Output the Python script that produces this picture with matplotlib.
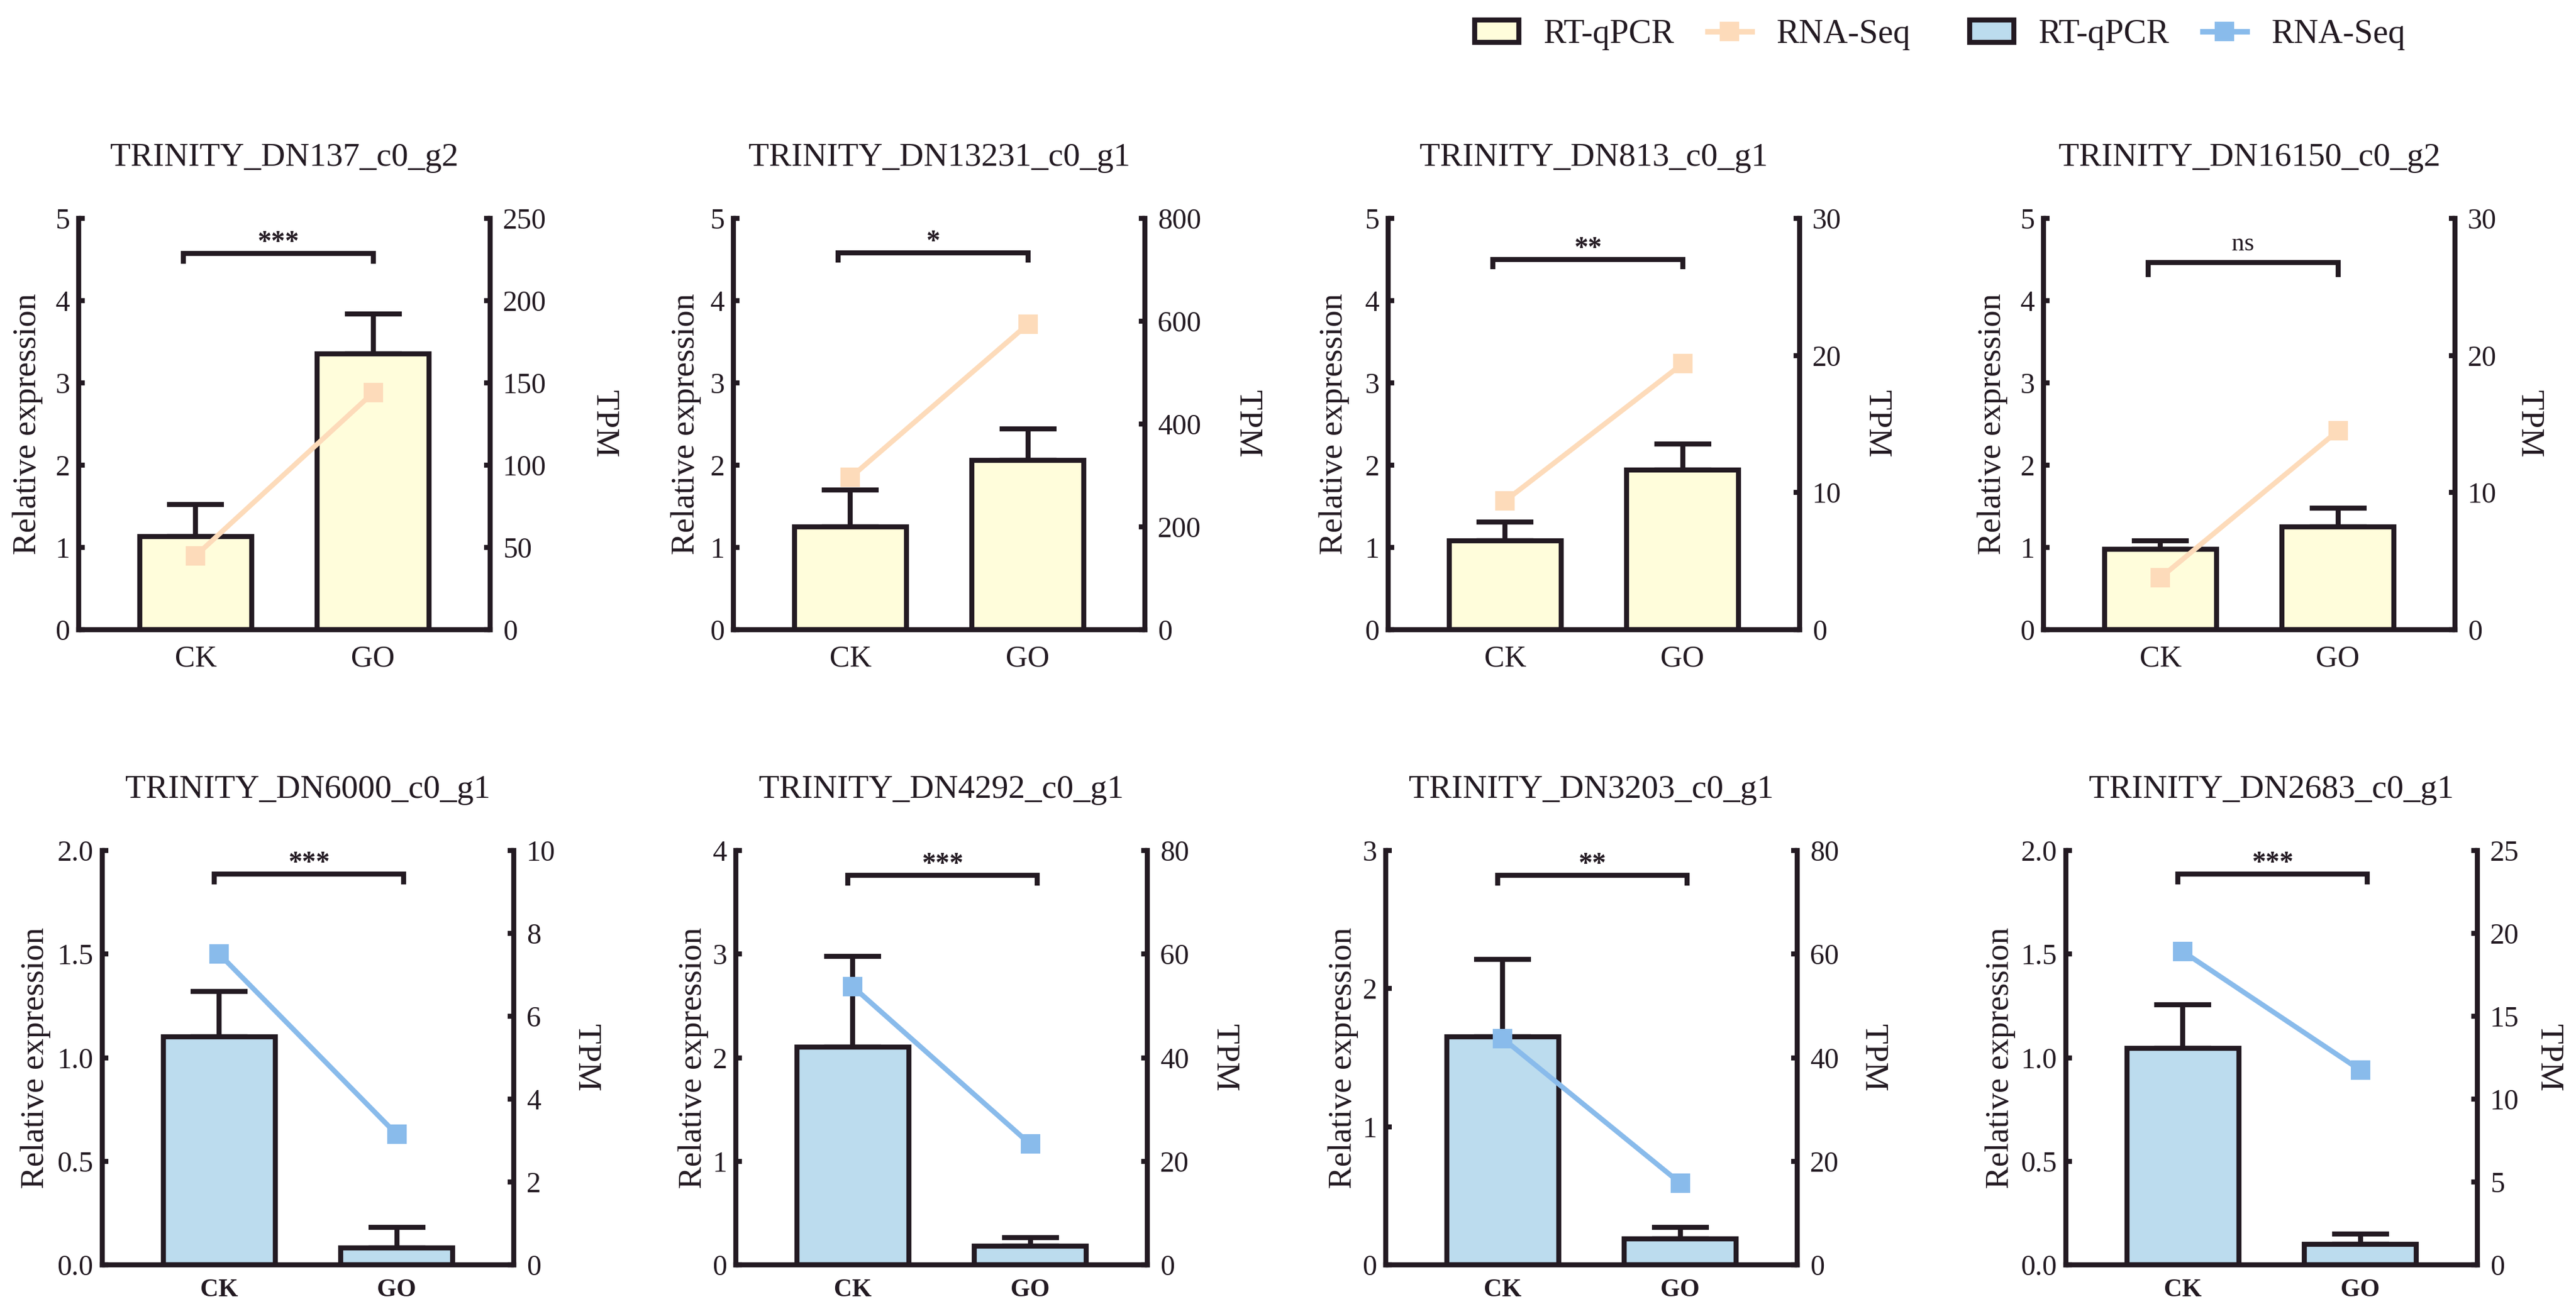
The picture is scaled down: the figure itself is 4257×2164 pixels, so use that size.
import matplotlib
matplotlib.use("Agg")
import matplotlib.pyplot as plt
from matplotlib.lines import Line2D
from matplotlib.patches import Patch
import numpy as np

plt.rcParams["font.family"] = "serif"
plt.rcParams["font.serif"] = ["Liberation Serif", "Times New Roman", "DejaVu Serif"]

# ---- data ----
GENES = [
    "TRINITY_DN137_c0_g2", "TRINITY_DN13231_c0_g1", "TRINITY_DN813_c0_g1", "TRINITY_DN16150_c0_g2",
    "TRINITY_DN6000_c0_g1", "TRINITY_DN4292_c0_g1", "TRINITY_DN3203_c0_g1", "TRINITY_DN2683_c0_g1",
]
GROUPS = ["CK", "GO"]
QPCR_MEAN = [
    [1.13, 3.35], [1.25, 2.06], [1.08, 1.94], [0.98, 1.25],
    [1.10, 0.082], [2.10, 0.18], [1.65, 0.19], [1.045, 0.10],
]
QPCR_SD = [
    [0.39, 0.49], [0.45, 0.38], [0.23, 0.32], [0.10, 0.23],
    [0.22, 0.10], [0.88, 0.08], [0.56, 0.08], [0.21, 0.05],
]
TPM = [
    [45, 144], [296, 594], [9.4, 19.4], [3.8, 14.5],
    [7.5, 3.15], [53.7, 23.3], [43.7, 15.8], [18.9, 11.75],
]
SIGNIF = ["***", "*", "**", "ns", "***", "***", "**", "***"]
BRACKET_Y = [4.57, 4.58, 4.50, 4.46, 1.885, 3.76, 2.82, 1.885]
LEFT_MAX = [5, 5, 5, 5, 2.0, 4, 3, 2.0]
LEFT_STEP = [1, 1, 1, 1, 0.5, 1, 1, 0.5]
RIGHT_MAX = [250, 800, 30, 30, 10, 80, 80, 25]
RIGHT_STEP = [50, 200, 10, 10, 2, 20, 20, 5]

# ---- style / layout ----
INK = "#231a22"
YELLOW = "#fffddb"
PEACH = "#fddbba"
BLUE_BAR = "#bcdcee"
BLUE_LINE = "#89bbeb"
LW = 2.0

W, H, DPI = 4257, 2164, 300
AX_LEFT = [130, 1212, 2294, 3377, 169, 1216, 2290, 3414]
AX_TOP = [361, 361, 361, 361, 1406, 1406, 1406, 1406]
AX_W = 680
AX_H = [680, 680, 680, 680, 685, 685, 685, 685]
YLABEL_X = [-0.124, -0.115, -0.131, -0.124, -0.162, -0.103, -0.104, -0.159]
TPM_LABEL_PX = [188, 169, 127, 122, 119, 127, 125, 117]


def tick_values(vmax, step):
    return np.arange(0, vmax + step / 2, step)


def draw_panel(fig, i):
    bottom_row = i >= 4
    bar_color = BLUE_BAR if bottom_row else YELLOW
    line_color = BLUE_LINE if bottom_row else PEACH

    rect = [AX_LEFT[i] / W, 1 - (AX_TOP[i] + AX_H[i]) / H, AX_W / W, AX_H[i] / H]
    ax = fig.add_axes(rect)
    x = np.arange(len(GROUPS))

    ax.errorbar(x, QPCR_MEAN[i], yerr=[np.zeros(len(x)), QPCR_SD[i]], fmt="none",
                ecolor=INK, elinewidth=LW, capsize=11.3, capthick=LW, zorder=1)
    ax.bar(x, QPCR_MEAN[i], width=0.63, color=bar_color, edgecolor=INK,
           linewidth=LW, zorder=2)

    ax.set_xlim(-0.66, 1.66)
    ax.set_ylim(0, LEFT_MAX[i])
    ax.set_xticks(x)
    ax.set_xticklabels(GROUPS)
    yt = tick_values(LEFT_MAX[i], LEFT_STEP[i])
    ax.set_yticks(yt)
    if LEFT_STEP[i] < 1:
        ax.set_yticklabels([f"{v:.1f}" for v in yt])
    else:
        ax.set_yticklabels([f"{v:.0f}" for v in yt])

    for side in ("top", "right"):
        ax.spines[side].set_visible(False)
    for side in ("left", "bottom"):
        ax.spines[side].set_linewidth(LW)
        ax.spines[side].set_color(INK)

    ax.tick_params(axis="y", direction="in", length=2.5, width=LW, pad=3.5,
                   labelsize=11.5, colors=INK)
    if bottom_row:
        ax.tick_params(axis="x", direction="in", length=2.5, width=LW, pad=5.5,
                       labelsize=10, colors=INK)
        for lab in ax.get_xticklabels():
            lab.set_fontweight("bold")
    else:
        ax.tick_params(axis="x", direction="in", length=2.5, width=LW, pad=6,
                       labelsize=12, colors=INK)

    ax.set_ylabel("Relative expression", fontsize=13.2, color=INK, va="center")
    ax.yaxis.set_label_coords(YLABEL_X[i], 0.5)
    ax.text(0.5, 1 + 100 / AX_H[i], GENES[i], transform=ax.transAxes,
            ha="center", va="center", fontsize=13.3, color=INK)

    # significance bracket
    ymax = LEFT_MAX[i]
    x1, x2 = (-0.03, 1.04) if bottom_row else (-0.07, 1.0)
    drop = (0.034 if SIGNIF[i] == "ns" else 0.024) * ymax
    yb = BRACKET_Y[i]
    ax.plot([x1, x1, x2, x2], [yb - drop, yb, yb, yb - drop], color=INK, lw=LW,
            solid_joinstyle="miter", solid_capstyle="butt", clip_on=False, zorder=4)
    if SIGNIF[i] == "ns":
        ax.annotate("ns", xy=((x1 + x2) / 2, yb), xytext=(0, 5), textcoords="offset points",
                    ha="center", va="baseline", fontsize=10, color=INK)
    else:
        ax.annotate(SIGNIF[i], xy=((x1 + x2) / 2, yb), xytext=(0, 1.5), textcoords="offset points",
                    ha="center", va="baseline", fontsize=11, fontweight="bold", color=INK)

    # TPM on the right axis
    ax2 = ax.twinx()
    ax2.plot(x, TPM[i], color=line_color, lw=2.0, marker="s", ms=6.8,
             mec=line_color, mfc=line_color, zorder=3)
    ax2.set_ylim(0, RIGHT_MAX[i])
    rt = tick_values(RIGHT_MAX[i], RIGHT_STEP[i])
    ax2.set_yticks(rt)
    ax2.set_yticklabels([f"{v:.0f}" for v in rt])
    for side in ("top", "left", "bottom"):
        ax2.spines[side].set_visible(False)
    ax2.spines["right"].set_linewidth(LW)
    ax2.spines["right"].set_color(INK)
    ax2.tick_params(axis="y", direction="in", length=2.5, width=LW, pad=5,
                    labelsize=11.5, colors=INK)
    ax2.set_ylabel("TPM", rotation=270, va="center", fontsize=13, color=INK)
    ax2.yaxis.set_label_coords(1 + TPM_LABEL_PX[i] / AX_W, 0.5)


def add_legend(fig, left_px, box_color, line_color):
    handles = [
        Patch(facecolor=box_color, edgecolor=INK, linewidth=LW),
        Line2D([0], [0], color=line_color, lw=2.2, marker="s", ms=6.8,
               mec=line_color, mfc=line_color),
    ]
    leg = fig.legend(handles=handles, labels=["RT-qPCR", "RNA-Seq"], ncol=2,
                     loc="center left", bbox_to_anchor=(left_px / W, 1 - 57 / H),
                     frameon=False, fontsize=13.5, handlelength=1.29, handleheight=0.64,
                     handletextpad=0.73, columnspacing=0.98, borderpad=0, borderaxespad=0)
    for t in leg.get_texts():
        t.set_color(INK)
    return leg


fig = plt.figure(figsize=(W / DPI, H / DPI), dpi=DPI)
for k in range(len(GENES)):
    draw_panel(fig, k)
add_legend(fig, 2437, YELLOW, PEACH)
add_legend(fig, 3255, BLUE_BAR, BLUE_LINE)

fig.savefig("out.png", dpi=DPI)
